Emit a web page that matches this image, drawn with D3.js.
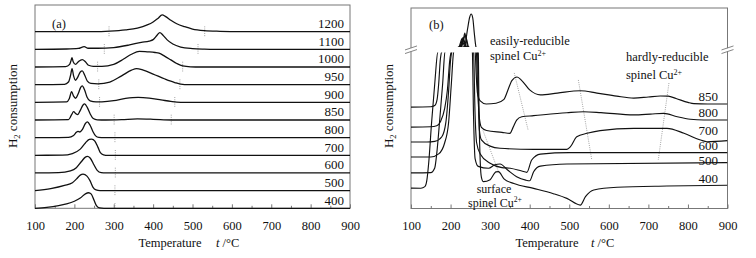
<!DOCTYPE html>
<html><head><meta charset="utf-8">
<script src="https://cdn.jsdelivr.net/npm/d3@7"></script>
<style>
body{margin:0;background:#fff}
svg{display:block;font-family:"Liberation Serif","Times New Roman",serif}
</style></head><body>
<svg id="chart" width="756" height="258"></svg>
<script>
// ---------- data

const xTicks = [100, 200, 300, 400, 500, 600, 700, 800, 900];
const xMinor = [150, 250, 350, 450, 550, 650, 750, 850];

// panel (a): calcination temperature of each trace, bottom to top
const rowsA = ['400', '500', '600', '700', '800', '850', '900', '950', '1000', '1100', '1200'];

// [temperature, signal] (signal in units of trace spacing)
const a400 = [[100,0],[130,0.05],[160,0.15],[180,0.25],[200,0.4],[215,0.58],[228,0.82],[236,0.88],[243,0.8],[250,0.45],[256,0.15],[264,0.02],[275,0],[900,0]];
const a500 = [[100,0],[140,0.12],[175,0.3],[195,0.45],[205,0.65],[215,0.88],[222,0.93],[232,0.82],[240,0.55],[247,0.2],[255,0.04],[265,0],[900,0]];
const a600 = [[100,0],[160,0.02],[190,0.12],[205,0.3],[218,0.65],[228,0.9],[233,0.94],[240,0.85],[250,0.45],[258,0.15],[268,0.02],[280,0],[900,0]];
const a700 = [[100,0],[170,0.01],[195,0.1],[215,0.35],[228,0.7],[238,0.9],[244,0.92],[252,0.8],[260,0.45],[266,0.15],[274,0.03],[285,0],[900,0]];
const a800 = [[100,0],[185,0.01],[198,0.12],[205,0.3],[209,0.36],[214,0.32],[220,0.45],[228,0.8],[233,0.89],[240,0.7],[247,0.35],[254,0.1],[262,0.01],[275,0],[900,0]];
const a850 = [[100,0],[185,0.02],[193,0.3],[198,0.47],[204,0.35],[208,0.3],[214,0.5],[222,0.85],[226,0.91],[233,0.7],[240,0.35],[248,0.08],[258,0.01],[280,0],[320,0.02],[360,0.06],[400,0.04],[446,0],[900,0]];
const a900 = [[100,0],[180,0.02],[187,0.2],[193,0.6],[198,0.35],[203,0.23],[210,0.5],[216,0.85],[220,0.93],[226,0.7],[232,0.3],[240,0.08],[255,0.02],[270,0.03],[300,0.1],[330,0.22],[362,0.28],[390,0.24],[420,0.14],[445,0.05],[460,0.01],[480,0],[900,0]];
const a950 = [[100,0],[175,0.02],[185,0.15],[191,0.6],[194,0.91],[198,0.5],[203,0.25],[208,0.4],[215,0.72],[220,0.78],[226,0.55],[233,0.2],[242,0.07],[260,0.05],[290,0.15],[320,0.5],[345,0.82],[358,0.91],[375,0.82],[400,0.6],[430,0.32],[455,0.12],[470,0.03],[490,0],[900,0]];
const a1000 = [[100,0],[178,0.02],[188,0.15],[192,0.4],[194,0.53],[197,0.3],[203,0.15],[210,0.3],[220,0.42],[228,0.3],[236,0.1],[248,0.04],[270,0.04],[300,0.15],[325,0.45],[345,0.72],[365,0.89],[385,0.86],[405,0.82],[415,0.78],[430,0.6],[445,0.4],[460,0.2],[475,0.06],[495,0.01],[520,0],[900,0]];
const a1100 = [[100,0],[180,0.02],[210,0.05],[225,0.15],[235,0.06],[260,0.06],[300,0.1],[340,0.25],[370,0.4],[390,0.47],[400,0.55],[410,0.8],[417,0.95],[425,0.8],[435,0.55],[450,0.3],[470,0.13],[500,0.04],[530,0.01],[560,0],[900,0]];
const a1200 = [[100,0],[250,0],[290,0.03],[330,0.1],[360,0.2],[385,0.38],[400,0.55],[412,0.75],[423,0.95],[432,0.85],[445,0.65],[460,0.45],[480,0.28],[500,0.15],[530,0.06],[570,0.02],[620,0],[900,0]];
const seriesA = [a400, a500, a600, a700, a800, a850, a900, a950, a1000, a1100, a1200];

// dotted guide marks on each trace (temperatures)
const dotsA = [[303],[303],[304],[304],[303],[301,446],[264,455],[262,468],[259,475],[276,514],[288,531]];

// panel (b)
const rowsB = ['850', '800', '700', '600', '500', '400'];
// [temperature, signal a.u.]; values above 10 sit past the axis break
const b850 = [[100,6.5],[150,6.52],[160,6.6],[166,7.0],[170,8],[174,9.5],[178,10.3],[224,12.3],[229,16],[232,17],[235,15],[238,12.3],[262,10.3],[265,8.5],[268,7.4],[275,6.9],[290,6.7],[315,6.75],[335,7.0],[345,7.6],[355,8.2],[368,8.43],[380,8.2],[400,7.6],[427,7.28],[470,7.4],[528,7.55],[570,7.4],[620,7.2],[663,7.08],[700,7.15],[730,7.21],[750,7.2],[770,7.05],[800,6.8],[815,6.72],[850,6.7],[900,6.7]];
const b800 = [[100,5.22],[150,5.24],[165,5.3],[175,5.6],[185,6.4],[192,7.6],[198,9.5],[202,10.3],[226,12.3],[233,18],[237,20],[241,17],[245,12.3],[265,10.3],[268,8],[272,6],[278,5.2],[291,5.0],[330,4.88],[350,4.82],[358,5.2],[367,5.67],[380,5.88],[410,5.95],[494,6.14],[536,6.2],[580,6.15],[663,6.0],[705,6.05],[739,6.1],[773,5.88],[806,5.72],[840,5.67],[900,5.67]];
const b700 = [[100,4.26],[140,4.26],[160,4.3],[178,4.6],[188,5.5],[195,7.5],[200,9.5],[204,10.3],[224,12.3],[229,17],[232,19],[235,16],[240,12.3],[268,10.3],[270,7.5],[273,5],[278,4.4],[300,4.0],[325,3.86],[410,3.79],[494,3.79],[503,3.96],[519,4.6],[545,4.82],[578,4.99],[663,5.14],[747,5.14],[790,4.82],[832,4.39],[848,4.28],[900,4.35]];
const b600 = [[100,3.3],[150,3.3],[170,3.5],[185,4.2],[195,5.5],[202,8],[208,10.3],[222,12.3],[226,16],[229,18],[232,15],[236,12.3],[258,10.3],[262,6],[266,4.2],[275,3.5],[300,2.9],[330,2.62],[351,2.58],[380,2.4],[393,2.32],[405,3.11],[427,3.49],[500,3.58],[900,3.58]];
const b500 = [[100,2.28],[150,2.3],[160,2.6],[165,3.5],[172,5.5],[180,8],[186,10.3],[228,12.3],[233,18],[236,22],[239,18],[243,12.3],[255,10.3],[258,6],[262,3.2],[270,2.7],[296,2.58],[312,2.8],[325,2.85],[345,2.45],[367,2.04],[390,1.82],[400,1.78],[410,2.36],[427,2.72],[494,2.85],[900,2.94]];
const b400 = [[100,1.31],[125,1.3],[135,1.4],[140,1.8],[145,3],[152,5.5],[160,8],[168,10.3],[235,12.3],[243,25],[248,33],[252,35.7],[256,33],[260,22],[264,12.3],[270,10.3],[272,6],[275,3],[278,2.0],[283,1.72],[300,1.85],[315,2.35],[321,2.36],[335,1.9],[360,1.6],[410,1.29],[460,0.95],[494,0.65],[528,0.22],[541,0.76],[562,1.19],[621,1.36],[747,1.44],[900,1.49]];
const seriesB = [b850, b800, b700, b600, b500, b400];

// dotted guide lines in (b): [[t0, v0], [t1, v1]]
const dotsB = [
  [[361, 8.69], [396, 5.03]],
  [[523, 8.24], [557, 3.11]],
  [[752, 8.04], [725, 3.11]],
  [[282, 5.0], [322, 2.3]]
];

// ---------- drawing

const svg = d3.select('#chart');
const ink = '#111', frame = '#777', guide = '#999';

const xa = d3.scaleLinear().domain([100, 900]).range([35, 350]);
const ya = d3.scaleLinear().domain([0, 11.51]).range([208.3, 5]);

const xb = d3.scaleLinear().domain([100, 900]).range([411, 727.5]);
const yb = d3.scaleLinear().domain([0, 10, 12, 40]).range([208.5, 52.5, 47, 8]);

function axisBottom(x, yPos) {
  svg.append('g')
    .attr('transform', `translate(0, ${yPos})`)
    .call(d3.axisBottom(x).tickValues(xMinor).tickSize(-2.5).tickFormat(''))
    .call(g => g.select('.domain').remove())
    .call(g => g.selectAll('line').attr('stroke', frame));

  svg.append('g')
    .attr('transform', `translate(0, ${yPos})`)
    .call(d3.axisBottom(x).tickValues(xTicks).tickSize(-4).tickPadding(13))
    .call(g => g.select('.domain').remove())
    .call(g => g.selectAll('line').attr('stroke', frame))
    .call(g => g.selectAll('text')
      .attr('font-family', '"Liberation Serif", serif')
      .attr('font-size', 12.5)
      .attr('fill', ink));
}

function axisTitle(cx, tx, yPos) {
  svg.append('text')
    .attr('x', cx).attr('y', yPos)
    .attr('text-anchor', 'middle')
    .attr('font-size', 12.5).attr('fill', ink)
    .text('Temperature');
  const t = svg.append('text')
    .attr('x', tx).attr('y', yPos)
    .attr('font-size', 12.5).attr('fill', ink);
  t.append('tspan').attr('font-style', 'italic').text('t');
  t.append('tspan').text(' /°C');
}

function yTitle(xPos) {
  const t = svg.append('text')
    .attr('transform', `translate(${xPos}, 106) rotate(-90)`)
    .attr('text-anchor', 'middle')
    .attr('font-size', 13).attr('fill', ink);
  t.append('tspan').text('H');
  t.append('tspan').attr('font-size', 8.5).attr('dy', 3).text('2');
  t.append('tspan').attr('dy', -3).text(' consumption');
}

// ----- panel (a)

svg.append('rect')
  .attr('x', xa(100)).attr('y', ya(11.51))
  .attr('width', xa(900) - xa(100)).attr('height', ya(0) - ya(11.51))
  .attr('fill', 'none').attr('stroke', frame);

axisBottom(xa, ya(0));
axisTitle(170, 216, 247);
yTitle(17);

const lineA = i => d3.line()
  .x(d => xa(d[0]))
  .y(d => ya(i + d[1]))
  .curve(d3.curveMonotoneX);

dotsA.forEach((ts, i) => {
  ts.forEach(t => {
    svg.append('line')
      .attr('x1', xa(t)).attr('x2', xa(t))
      .attr('y1', ya(i + 0.3)).attr('y2', ya(Math.max(i - 0.3, 0)))
      .attr('stroke', guide).attr('stroke-width', 0.9)
      .attr('stroke-dasharray', '1,1.2');
  });
});

seriesA.forEach((s, i) => {
  svg.append('path')
    .datum(s)
    .attr('fill', 'none')
    .attr('stroke', ink)
    .attr('stroke-width', 1.3)
    .attr('d', lineA(i));
});

svg.selectAll('.rowA')
  .data(rowsA)
  .join('text')
  .attr('class', 'rowA')
  .attr('x', 344)
  .attr('y', (d, i) => ya(i) - 3.5)
  .attr('text-anchor', 'end')
  .attr('font-size', 13).attr('fill', ink)
  .text(d => d);

svg.append('text')
  .attr('x', 52).attr('y', 28)
  .attr('font-size', 12.5).attr('fill', ink)
  .text('(a)');

// ----- panel (b)

const defs = svg.append('defs');
const clip = defs.append('clipPath').attr('id', 'clipB');
clip.append('rect')
  .attr('x', xb(100)).attr('y', yb(40))
  .attr('width', xb(900) - xb(100)).attr('height', yb(12) - yb(40));
clip.append('rect')
  .attr('x', xb(100)).attr('y', yb(10))
  .attr('width', xb(900) - xb(100)).attr('height', yb(0) - yb(10));

svg.append('rect')
  .attr('x', xb(100)).attr('y', yb(40))
  .attr('width', xb(900) - xb(100)).attr('height', yb(0) - yb(40))
  .attr('fill', 'none').attr('stroke', frame);

axisBottom(xb, yb(0));
axisTitle(547, 591, 247);
yTitle(393);

// axis break marks
[xb(100), xb(900)].forEach(ax => {
  const yc = (yb(10) + yb(12)) / 2;
  svg.append('rect')
    .attr('x', ax - 2).attr('y', yc - 1.6)
    .attr('width', 4).attr('height', 3.2)
    .attr('fill', '#fff');
  [-1.8, 1.8].forEach(o => {
    svg.append('line')
      .attr('x1', ax - 6).attr('y1', yc + o + 2)
      .attr('x2', ax + 6).attr('y2', yc + o - 2)
      .attr('stroke', frame).attr('stroke-width', 0.9);
  });
});

const lineB = d3.line()
  .x(d => xb(d[0]))
  .y(d => yb(d[1]))
  .curve(d3.curveMonotoneX);

dotsB.forEach(seg => {
  svg.append('line')
    .attr('x1', xb(seg[0][0])).attr('y1', yb(seg[0][1]))
    .attr('x2', xb(seg[1][0])).attr('y2', yb(seg[1][1]))
    .attr('stroke', guide).attr('stroke-width', 0.9)
    .attr('stroke-dasharray', '1,1.2');
});

seriesB.forEach(s => {
  svg.append('path')
    .datum(s)
    .attr('clip-path', 'url(#clipB)')
    .attr('fill', 'none')
    .attr('stroke', ink)
    .attr('stroke-width', 1.15)
    .attr('d', lineB);
});

const labelDyB = [-3, -3, -6, -3, 2, -2.5];
svg.selectAll('.rowB')
  .data(rowsB)
  .join('text')
  .attr('class', 'rowB')
  .attr('x', 718)
  .attr('y', (d, i) => yb(seriesB[i][seriesB[i].length - 1][1]) + labelDyB[i])
  .attr('text-anchor', 'end')
  .attr('font-size', 13).attr('fill', ink)
  .text(d => d);

svg.append('text')
  .attr('x', 429).attr('y', 29)
  .attr('font-size', 12.5).attr('fill', ink)
  .text('(b)');

function cuLabel(x, y, anchor, size) {
  const t = svg.append('text')
    .attr('x', x).attr('y', y)
    .attr('text-anchor', anchor)
    .attr('font-size', size).attr('fill', ink);
  t.append('tspan').text('spinel Cu');
  t.append('tspan').attr('font-size', size * 0.64).attr('dy', -4.5).text('2+');
}

svg.append('text')
  .attr('x', 490).attr('y', 45)
  .attr('font-size', 12.5).attr('fill', ink)
  .text('easily-reducible');
cuLabel(490, 60, 'start', 12.5);

svg.append('text')
  .attr('x', 626).attr('y', 61)
  .attr('font-size', 12.5).attr('fill', ink)
  .text('hardly-reducible');
cuLabel(626, 79, 'start', 12.5);

svg.append('text')
  .attr('x', 494).attr('y', 192.5)
  .attr('text-anchor', 'middle')
  .attr('font-size', 12).attr('fill', ink)
  .text('surface');
cuLabel(495, 206.5, 'middle', 12);
</script>
</body></html>
